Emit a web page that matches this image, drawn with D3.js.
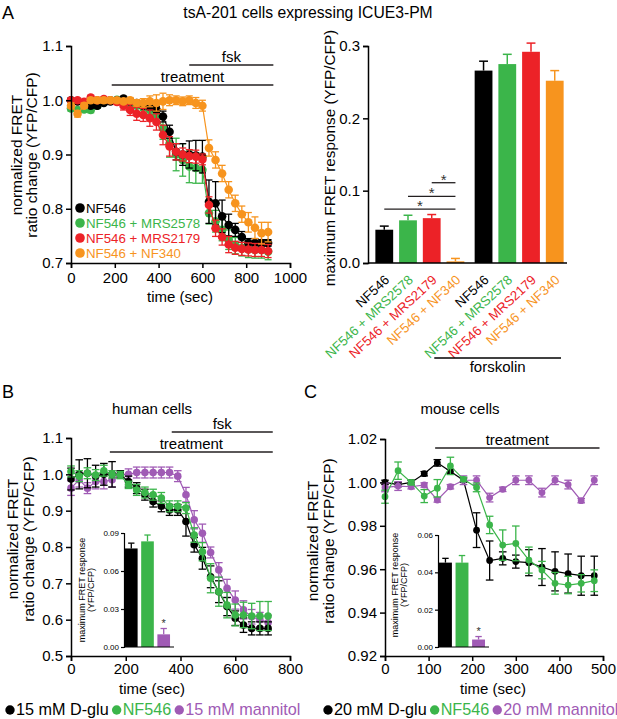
<!DOCTYPE html>
<html>
<head>
<meta charset="utf-8">
<script src="https://cdn.jsdelivr.net/npm/d3@7"></script>
<style>
  body { margin: 0; background: #fff; }
  svg { font-family: "Liberation Sans", Arial, Helvetica, sans-serif; }
</style>
</head>
<body>
<svg id="fig" width="617" height="719"></svg>
<script>
// ---------- data ----------
// panel A, time course (sec)
var timesA = [0,30,60,90,120,150,180,210,240,270,300,330,360,390,420,450,480,510,540,570,600,630,660,690,720,750,780,810,840,870,900];
var nf546A = [1.0,0.998,0.995,0.99,0.99,0.995,0.998,1.0,1.003,0.998,0.995,0.99,0.988,0.983,0.97,0.942,0.905,0.9,0.9,0.898,0.896,0.813,0.81,0.786,0.77,0.761,0.748,0.737,0.737,0.737,0.737];
var nf546AErr = [0.003,0.003,0.003,0.004,0.004,0.003,0.003,0.003,0.004,0.004,0.004,0.005,0.005,0.006,0.01,0.012,0.015,0.02,0.025,0.028,0.03,0.04,0.04,0.03,0.02,0.012,0.01,0.008,0.008,0.006,0.006];
var mrs2578A = [0.985,0.982,0.983,0.982,0.99,0.998,1.0,1.001,0.999,0.994,0.99,0.987,0.982,0.973,0.948,0.92,0.9,0.89,0.878,0.875,0.872,0.792,0.777,0.761,0.743,0.732,0.728,0.725,0.724,0.724,0.721];
var mrs2578AErr = [0.005,0.005,0.005,0.005,0.004,0.004,0.004,0.004,0.004,0.005,0.005,0.006,0.008,0.012,0.02,0.025,0.03,0.03,0.03,0.028,0.025,0.02,0.02,0.02,0.018,0.015,0.015,0.015,0.015,0.015,0.015];
var mrs2179A = [1.0,1.0,0.997,1.005,1.0,1.002,1.0,0.997,0.99,0.982,0.975,0.973,0.967,0.96,0.936,0.915,0.905,0.9,0.897,0.896,0.891,0.807,0.764,0.748,0.734,0.728,0.726,0.725,0.724,0.724,0.722];
var mrs2179AErr = [0.003,0.003,0.003,0.004,0.004,0.004,0.004,0.005,0.008,0.01,0.012,0.012,0.015,0.015,0.018,0.018,0.015,0.012,0.012,0.012,0.01,0.015,0.015,0.015,0.015,0.012,0.012,0.012,0.012,0.012,0.012];
var nf340A = [0.99,0.975,0.99,1.0,1.0,1.0,1.0,1.0,0.998,1.0,0.995,0.995,0.998,0.995,0.998,1.0,1.0,0.998,1.0,0.995,0.99,0.912,0.89,0.865,0.835,0.81,0.79,0.775,0.765,0.755,0.757];
var nf340AErr = [0.005,0.006,0.005,0.004,0.005,0.005,0.004,0.004,0.004,0.005,0.006,0.008,0.01,0.015,0.015,0.01,0.008,0.008,0.008,0.01,0.01,0.015,0.015,0.015,0.015,0.015,0.015,0.018,0.02,0.02,0.018];
var treatA = [186, 924];
var fskA = [540, 924];

// panel A, max FRET bars
var barLabels = ["NF546", "NF546 + MRS2578", "NF546 + MRS2179", "NF546 + NF340"];
var barGroups = ["basal", "forskolin"];
var basalMax = [0.046, 0.059, 0.062, 0.0023];
var basalErr = [0.005, 0.007, 0.005, 0.004];
var fskMax = [0.266, 0.275, 0.292, 0.252];
var fskErr = [0.013, 0.0135, 0.012, 0.014];
var sigFrom = [0, 1, 2];          // each compared with bar 3 (NF340)
var sigLevel = [0.0745, 0.092, 0.111];

// panel B, human cells
var timesB = [0,30,60,90,120,150,180,210,240,270,300,330,360,390,420,450,480,510,540,570,600,630,660,690,720];
var dgluB = [0.987,1.0,1.003,0.995,1.0,1.0,1.0,0.98,0.962,0.944,0.925,0.912,0.902,0.902,0.87,0.806,0.769,0.718,0.677,0.636,0.604,0.585,0.576,0.576,0.576];
var dgluBErr = [0.03,0.04,0.04,0.03,0.03,0.035,0.01,0.015,0.015,0.015,0.015,0.015,0.015,0.015,0.04,0.02,0.03,0.03,0.03,0.025,0.02,0.02,0.018,0.018,0.018];
var nf546B = [1.008,0.995,1.003,0.998,1.01,1.0,0.998,0.971,0.957,0.95,0.944,0.935,0.912,0.912,0.907,0.833,0.787,0.714,0.677,0.64,0.613,0.613,0.61,0.61,0.61];
var nf546BErr = [0.015,0.015,0.015,0.015,0.015,0.01,0.01,0.01,0.015,0.015,0.015,0.015,0.015,0.015,0.015,0.02,0.025,0.04,0.04,0.035,0.03,0.035,0.035,0.04,0.04];
var mannB = [0.962,0.985,0.962,0.98,0.98,0.985,1.0,1.0,1.005,1.005,1.005,1.005,1.005,0.995,0.944,0.875,0.838,0.785,0.737,0.686,0.654,0.627,0.608,0.6,0.592];
var mannBErr = [0.02,0.02,0.015,0.02,0.02,0.02,0.01,0.015,0.015,0.015,0.015,0.015,0.015,0.015,0.02,0.025,0.025,0.015,0.02,0.025,0.025,0.025,0.02,0.02,0.02];
var treatB = [142, 737];
var fskB = [368, 737];
var insetBVals = [0.0778, 0.0834, 0.010];
var insetBErr = [0.0042, 0.005, 0.0046];

// panel C, mouse cells
var timesC = [0,30,60,90,120,150,180,210,240,270,300,330,360,390,420,450,480];
var dgluC = [1.0,0.999,1.0,1.004,1.009,1.005,1.001,0.978,0.964,0.965,0.9635,0.963,0.961,0.959,0.958,0.957,0.957];
var dgluCErr = [0.001,0.001,0.001,0.001,0.0015,0.001,0.001,0.008,0.009,0.003,0.003,0.006,0.0085,0.009,0.009,0.009,0.009];
var nf546C = [0.9934,1.0054,1.0,0.9937,0.9973,1.0076,1.0014,0.9977,0.9804,0.9711,0.9719,0.9642,0.9596,0.9535,0.9527,0.9535,0.9547];
var nf546CErr = [0.003,0.004,0.001,0.003,0.004,0.004,0.001,0.002,0.004,0.007,0.008,0.006,0.004,0.005,0.004,0.004,0.005];
var mannC = [0.9977,0.9983,0.998,0.9988,0.9919,0.998,1.001,1.001,0.993,0.9968,1.001,1.001,0.9953,1.001,0.999,0.9916,1.001];
var mannCErr = [0.002,0.002,0.001,0.001,0.001,0.001,0.002,0.002,0.002,0.001,0.002,0.002,0.002,0.002,0.002,0.001,0.002];
var treatC = [115, 492];
var insetCVals = [0.0452, 0.0452, 0.004];
var insetCErr = [0.0023, 0.0038, 0.0016];

// ---------- styles ----------
var cBlack = '#000000', cGreen = '#3bb54a', cRed = '#ec2227', cOrange = '#f7941e', cPurple = '#a05bb5';
var barColors = [cBlack, cGreen, cRed, cOrange];
var FS = 15;

var svg = d3.select('#fig');

function styleAxis(g, fs, sw) {
    g.select('.domain').attr('stroke', '#000').attr('stroke-width', sw);
    g.selectAll('.tick line').attr('stroke', '#000').attr('stroke-width', sw);
    g.selectAll('.tick text').attr('font-size', fs).attr('fill', '#000');
}

function addText(x, y, txt, fs, anchor, color) {
    return svg.append('text').attr('x', x).attr('y', y).text(txt)
        .attr('font-size', fs).attr('text-anchor', anchor || 'start')
        .attr('fill', color || '#000');
}

// rotated y label, one tspan per line (x = baseline of first line)
function yLabel(x, y, lines, fs, gap) {
    var t = svg.append('text').attr('transform', 'translate(' + x + ',' + y + ') rotate(-90)')
        .attr('text-anchor', 'middle').attr('font-size', fs);
    lines.forEach(function(l, i) {
        t.append('tspan').attr('x', 0).attr('y', i * gap).text(l);
    });
}

function timePanel(o) {
    var x = d3.scaleLinear().domain(o.xDomain).range(o.xRange);
    var y = d3.scaleLinear().domain(o.yDomain).range(o.yRange);
    var g = svg.append('g');

    o.series.forEach(function(s) {
        var pts = s.values.map(function(v, i) { return { t: o.times[i], v: v, e: s.err[i] }; });
        var sg = g.append('g');
        sg.selectAll('line.eb').data(pts).join('line').attr('class', 'eb')
            .attr('x1', function(d) { return x(d.t); }).attr('x2', function(d) { return x(d.t); })
            .attr('y1', function(d) { return y(d.v - d.e); }).attr('y2', function(d) { return y(d.v + d.e); })
            .attr('stroke', s.color).attr('stroke-width', 1.3);
        [-1, 1].forEach(function(k) {
            sg.selectAll('line.cap' + (k + 1)).data(pts).join('line').attr('class', 'cap' + (k + 1))
                .attr('x1', function(d) { return x(d.t) - o.cap; }).attr('x2', function(d) { return x(d.t) + o.cap; })
                .attr('y1', function(d) { return y(d.v + k * d.e); }).attr('y2', function(d) { return y(d.v + k * d.e); })
                .attr('stroke', s.color).attr('stroke-width', 1.3);
        });
        sg.append('path').datum(pts)
            .attr('d', d3.line().x(function(d) { return x(d.t); }).y(function(d) { return y(d.v); }))
            .attr('fill', 'none').attr('stroke', s.color).attr('stroke-width', 1.2);
        sg.selectAll('circle').data(pts).join('circle')
            .attr('cx', function(d) { return x(d.t); }).attr('cy', function(d) { return y(d.v); })
            .attr('r', o.r).attr('fill', s.color);
    });

    var xAxis = svg.append('g').attr('transform', 'translate(0,' + o.yRange[0] + ')')
        .call(d3.axisBottom(x).tickValues(o.xTicks).tickSize(5).tickPadding(o.xPad).tickFormat(d3.format('d')));
    styleAxis(xAxis, FS, 1.5);
    var yAxis = svg.append('g').attr('transform', 'translate(' + o.xRange[0] + ',0)')
        .call(d3.axisLeft(y).tickValues(o.yTicks).tickSize(5).tickPadding(3).tickFormat(d3.format(o.yFmt)));
    styleAxis(yAxis, FS, 1.5);

    // treatment / fsk bars above the plot
    o.marks.forEach(function(m) {
        var yy = o.yRange[1] + m.dy;
        svg.append('line').attr('x1', x(m.span[0])).attr('x2', x(m.span[1]))
            .attr('y1', yy).attr('y2', yy).attr('stroke', '#231f20').attr('stroke-width', 1.5);
        addText(x((m.span[0] + m.span[1]) / 2), yy - 3, m.label, FS, 'middle');
    });
    return { x: x, y: y };
}

function insetBars(o) {
    var y = d3.scaleLinear().domain([0, o.max]).range([o.y0, o.y1]);
    var x = d3.scaleBand().domain(d3.range(o.vals.length)).range([o.x0, o.x1])
        .paddingInner(0.22).paddingOuter(0.06);
    var g = svg.append('g');
    o.vals.forEach(function(v, i) {
        var cx = x(i) + x.bandwidth() / 2;
        g.append('line').attr('x1', cx).attr('x2', cx).attr('y1', y(v)).attr('y2', y(v + o.err[i]))
            .attr('stroke', o.colors[i]).attr('stroke-width', 1.3);
        g.append('line').attr('x1', cx - x.bandwidth() / 4).attr('x2', cx + x.bandwidth() / 4)
            .attr('y1', y(v + o.err[i])).attr('y2', y(v + o.err[i]))
            .attr('stroke', o.colors[i]).attr('stroke-width', 1.3);
        g.append('rect').attr('x', x(i)).attr('width', x.bandwidth())
            .attr('y', y(v)).attr('height', y(0) - y(v)).attr('fill', o.colors[i]);
    });
    var last = o.vals.length - 1;
    addText(x(last) + x.bandwidth() / 2, y(o.vals[last] + o.err[last]) - 2, '*', 11, 'middle', '#333');
    var ax = svg.append('g').attr('transform', 'translate(' + o.x0 + ',0)')
        .call(d3.axisLeft(y).tickValues(o.ticks).tickSize(3).tickPadding(2).tickFormat(d3.format('.2f')));
    styleAxis(ax, 8, 1.2);
    svg.append('line').attr('x1', o.x0).attr('x2', o.x1 + 3).attr('y1', o.y0).attr('y2', o.y0)
        .attr('stroke', '#000').attr('stroke-width', 1.2);
    yLabel(o.labelX, o.labelY, ['maximum FRET response', '(YFP/CFP)'], 9, 9);
}

function lineLegend(x0, y, items, fs) {
    var cursor = x0;
    items.forEach(function(it) {
        svg.append('circle').attr('cx', cursor + 5).attr('cy', y - 5).attr('r', 4.7).attr('fill', it.color);
        var t = addText(cursor + 11, y, it.label, fs, 'start', it.color);
        cursor = cursor + 11 + t.node().getComputedTextLength() + 3;
    });
}

// ---------- panel letters and titles ----------
addText(2, 19, 'A', 18);
addText(2, 398, 'B', 18);
addText(304, 398, 'C', 18);
addText(308, 18, 'tsA-201 cells expressing ICUE3-PM', 15.7, 'middle');
addText(152, 414, 'human cells', FS, 'middle');
addText(460, 414, 'mouse cells', FS, 'middle');

// ---------- panel A left ----------
timePanel({
    times: timesA, xDomain: [0, 1000], xRange: [71, 290], yDomain: [0.7, 1.1], yRange: [263, 46],
    xTicks: [0, 200, 400, 600, 800, 1000], yTicks: [0.7, 0.8, 0.9, 1.0, 1.1], yFmt: '.1f',
    r: 4.3, cap: 3.5, xPad: 4,
    series: [
        { values: mrs2578A, err: mrs2578AErr, color: cGreen },
        { values: nf546A, err: nf546AErr, color: cBlack },
        { values: mrs2179A, err: mrs2179AErr, color: cRed },
        { values: nf340A, err: nf340AErr, color: cOrange }
    ],
    marks: [{ span: treatA, dy: 39, label: 'treatment' }, { span: fskA, dy: 19, label: 'fsk' }]
});
yLabel(22, 155, ['normalized FRET', 'ratio change (YFP/CFP)'], 15.5, 15);
addText(180, 302, 'time (sec)', FS, 'middle');
[{ l: 'NF546', c: cBlack }, { l: 'NF546 + MRS2578', c: cGreen }, { l: 'NF546 + MRS2179', c: cRed }, { l: 'NF546 + NF340', c: cOrange }]
    .forEach(function(it, i) {
        svg.append('circle').attr('cx', 80).attr('cy', 208 + i * 15).attr('r', 4.8).attr('fill', it.c);
        addText(86, 213 + i * 15, it.l, 13.3, 'start', it.c);
    });

// ---------- panel A right (bars) ----------
var yBar = d3.scaleLinear().domain([0, 0.3]).range([263, 46]);
var xGroup = d3.scaleBand().domain(barGroups).range([373, 566]).paddingInner(0.056);
var xBar = d3.scaleBand().domain(barLabels).range([0, xGroup.bandwidth()]).paddingInner(0.25).paddingOuter(0.1);
var barData = [];
barGroups.forEach(function(gname, gi) {
    var vals = gi === 0 ? basalMax : fskMax, errs = gi === 0 ? basalErr : fskErr;
    barLabels.forEach(function(lab, i) {
        barData.push({ group: gname, label: lab, v: vals[i], e: errs[i], color: barColors[i],
            x: xGroup(gname) + xBar(lab) });
    });
});
var bw = xBar.bandwidth();
svg.selectAll('line.barErr').data(barData).join('line').attr('class', 'barErr')
    .attr('x1', function(d) { return d.x + bw / 2; }).attr('x2', function(d) { return d.x + bw / 2; })
    .attr('y1', function(d) { return yBar(d.v); }).attr('y2', function(d) { return yBar(d.v + d.e); })
    .attr('stroke', function(d) { return d.color; }).attr('stroke-width', 1.5);
svg.selectAll('line.barCap').data(barData).join('line').attr('class', 'barCap')
    .attr('x1', function(d) { return d.x + bw / 4; }).attr('x2', function(d) { return d.x + 3 * bw / 4; })
    .attr('y1', function(d) { return yBar(d.v + d.e); }).attr('y2', function(d) { return yBar(d.v + d.e); })
    .attr('stroke', function(d) { return d.color; }).attr('stroke-width', 1.5);
svg.selectAll('rect.bar').data(barData).join('rect').attr('class', 'bar')
    .attr('x', function(d) { return d.x; }).attr('width', bw)
    .attr('y', function(d) { return yBar(d.v); }).attr('height', function(d) { return yBar(0) - yBar(d.v); })
    .attr('fill', function(d) { return d.color; });
var yBarAxis = svg.append('g').attr('transform', 'translate(368,0)')
    .call(d3.axisLeft(yBar).tickValues([0, 0.1, 0.2, 0.3]).tickSize(5).tickPadding(3).tickFormat(d3.format('.1f')));
styleAxis(yBarAxis, FS, 1.5);
svg.append('line').attr('x1', 368).attr('x2', 567).attr('y1', 263).attr('y2', 263)
    .attr('stroke', '#000').attr('stroke-width', 1.5);
barData.forEach(function(d) {
    svg.append('text').attr('transform', 'translate(' + (d.x + bw / 2 + 6) + ',281) rotate(-43)')
        .attr('text-anchor', 'end').attr('font-size', 13.3).attr('fill', d.color).text(d.label);
});
// significance brackets
var basalCenters = barLabels.map(function(l) { return xGroup('basal') + xBar(l) + bw / 2; });
sigFrom.forEach(function(f, i) {
    var yy = yBar(sigLevel[i]);
    svg.append('line').attr('x1', basalCenters[f]).attr('x2', basalCenters[3]).attr('y1', yy).attr('y2', yy)
        .attr('stroke', '#231f20').attr('stroke-width', 1.3);
    addText((basalCenters[f] + basalCenters[3]) / 2, yy + 2, '*', 15, 'middle', '#333');
});
var fskStart = xGroup('forskolin') - 38;
var fskEnd = xGroup('forskolin') + xGroup.bandwidth() - 5;
svg.append('line').attr('x1', fskStart).attr('x2', fskEnd).attr('y1', 358).attr('y2', 358)
    .attr('stroke', '#000').attr('stroke-width', 1.5);
addText((fskStart + fskEnd) / 2, 372, 'forskolin', FS, 'middle');
yLabel(335, 158, ['maximum FRET response (YFP/CFP)'], 15.3, 0);

// ---------- panel B ----------
timePanel({
    times: timesB, xDomain: [0, 800], xRange: [71, 290], yDomain: [0.5, 1.1], yRange: [656, 438],
    xTicks: [0, 200, 400, 600, 800], yTicks: [0.5, 0.6, 0.7, 0.8, 0.9, 1.0, 1.1], yFmt: '.1f',
    r: 3.8, cap: 3.8, xPad: 2,
    series: [
        { values: mannB, err: mannBErr, color: cPurple },
        { values: dgluB, err: dgluBErr, color: cBlack },
        { values: nf546B, err: nf546BErr, color: cGreen }
    ],
    marks: [{ span: treatB, dy: 14, label: 'treatment' }, { span: fskB, dy: -6, label: 'fsk' }]
});
yLabel(18, 539, ['normalized FRET', 'ratio change (YFP/CFP)'], 15.5, 16);
addText(152, 694, 'time (sec)', FS, 'middle');
insetBars({ vals: insetBVals, err: insetBErr, colors: [cBlack, cGreen, cPurple], max: 0.09,
    ticks: [0, 0.03, 0.06, 0.09], x0: 124, x1: 171, y0: 647, y1: 533, labelX: 85, labelY: 590 });
lineLegend(5, 715, [{ label: '15 mM D-glu', color: cBlack }, { label: 'NF546', color: cGreen },
    { label: '15 mM mannitol', color: cPurple }], 16.2);

// ---------- panel C ----------
timePanel({
    times: timesC, xDomain: [0, 500], xRange: [385, 603], yDomain: [0.92, 1.02], yRange: [656, 439],
    xTicks: [0, 100, 200, 300, 400, 500], yTicks: [0.92, 0.94, 0.96, 0.98, 1.0, 1.02], yFmt: '.2f',
    r: 3.4, cap: 3.8, xPad: 2,
    series: [
        { values: dgluC, err: dgluCErr, color: cBlack },
        { values: mannC, err: mannCErr, color: cPurple },
        { values: nf546C, err: nf546CErr, color: cGreen }
    ],
    marks: [{ span: treatC, dy: 9, label: 'treatment' }]
});
yLabel(318, 541, ['normalized FRET', 'ratio change (YFP/CFP)'], 15.5, 16);
addText(493, 694, 'time (sec)', FS, 'middle');
insetBars({ vals: insetCVals, err: insetCErr, colors: [cBlack, cGreen, cPurple], max: 0.06,
    ticks: [0, 0.02, 0.04, 0.06], x0: 438, x1: 486, y0: 647, y1: 535, labelX: 398, labelY: 585 });
lineLegend(323, 715, [{ label: '20 mM D-glu', color: cBlack }, { label: 'NF546', color: cGreen },
    { label: '20 mM mannitol', color: cPurple }], 16.2);
</script>
</body>
</html>
